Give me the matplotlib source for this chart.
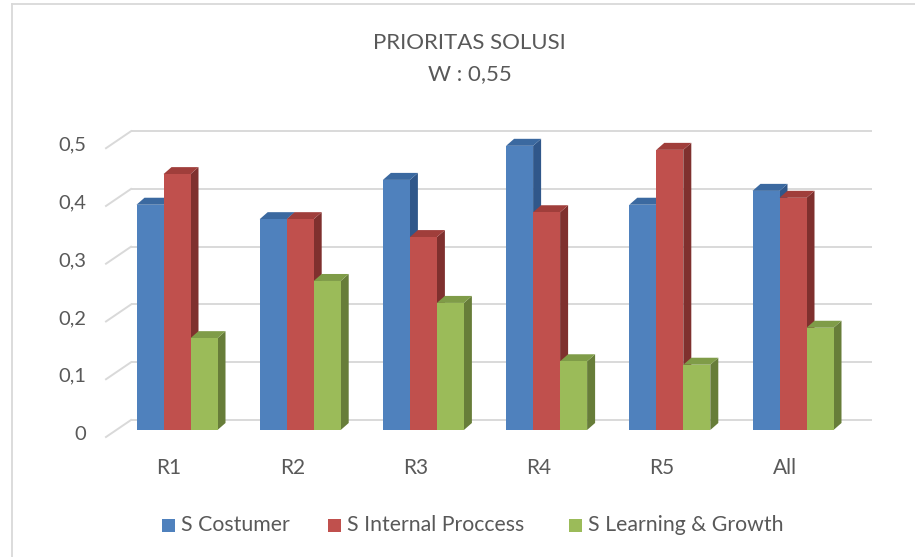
import matplotlib.pyplot as plt
from matplotlib.patches import Polygon, Rectangle

plt.rcParams['font.family'] = ['Lato', 'DejaVu Sans']

categories = ["R1", "R2", "R3", "R4", "R5", "All"]
s_costumer = [0.39, 0.365, 0.433, 0.492, 0.39, 0.414]
s_internal = [0.443, 0.365, 0.334, 0.377, 0.485, 0.402]
s_learning = [0.159, 0.258, 0.22, 0.119, 0.113, 0.177]
series_names = ["S Costumer", "S Internal Proccess", "S Learning & Growth"]
yticks = [0, 0.1, 0.2, 0.3, 0.4, 0.5]
ytick_labels = ["0", "0,1", "0,2", "0,3", "0,4", "0,5"]
title_line1 = "PRIORITAS SOLUSI"
title_line2 = "W : 0,55"

W, H = 915, 557
# pixel scale of the chart (front face of the bars)
X0_PX, X_STEP = 177, 123.2   # centre of first group, spacing of groups
Y0_PX, Y_STEP = 430, 577.6   # baseline of bars, pixels per 1.0

front_cols = ["#4F81BD", "#C0504D", "#9BBB59"]
top_cols = ["#3B69A0", "#A03E3B", "#7F9C48"]
side_cols = ["#30578A", "#7F302E", "#677D39"]
grid_col = "#D9D9D9"
text_col = "#595959"

fig = plt.figure(figsize=(W / 100, H / 100), dpi=100)
ax = fig.add_axes([0, 0, 1, 1])
ax.set_xlim(-X0_PX / X_STEP, (W - X0_PX) / X_STEP)
ax.set_ylim(-(H - Y0_PX) / Y_STEP, Y0_PX / Y_STEP)
ax.axis('off')

def dx(px):
    return px / X_STEP

def dy(px):
    return px / Y_STEP

# back wall gridlines + left oblique ticks
n = len(categories)
left_front = dx(106 - X0_PX)
left_back = dx(131 - X0_PX)
right_back = dx(872 - X0_PX)
for v in yticks:
    yb = v + dy(10)
    yf = v - dy(7)
    ax.plot([left_back, right_back], [yb, yb], color=grid_col, lw=1.4, zorder=1,
            solid_capstyle='butt')
    ax.plot([left_front, left_back], [yf, yb], color=grid_col, lw=1.4, zorder=1)

for v, lab in zip(yticks, ytick_labels):
    ax.text(dx(86 - X0_PX), v - dy(4), lab, ha='right', va='center',
            fontsize=14.5, color=text_col)

# 3d-ish bars
bw = dx(27)
ddx, ddy = dx(8), dy(7)
series = [s_costumer, s_internal, s_learning]
z = 2
for i in range(n):
    for k, vals in enumerate(series):
        v = vals[i]
        x0 = i + (k - 1.5) * bw
        x1 = x0 + bw
        side = Polygon([(x1, 0), (x1 + ddx, ddy), (x1 + ddx, v + ddy), (x1, v)],
                       closed=True, facecolor=side_cols[k], edgecolor='none', zorder=z)
        top = Polygon([(x0, v), (x0 + ddx, v + ddy), (x1 + ddx, v + ddy), (x1, v)],
                      closed=True, facecolor=top_cols[k], edgecolor='none', zorder=z)
        ax.add_patch(side)
        ax.add_patch(top)
        ax.bar(x0, v, width=bw, align='edge', color=front_cols[k], zorder=z + 0.5,
               linewidth=0)
        z += 1

for i, lab in enumerate(categories):
    ax.text(i - dx(8), dy(430 - 468), lab, ha='center', va='center',
            fontsize=15, color=text_col)

fig.text(469.5 / W, 1 - 43 / H, title_line1, ha='center', va='center',
         fontsize=16, color=text_col)
fig.text(469.5 / W, 1 - 74 / H, title_line2, ha='center', va='center',
         fontsize=16, color=text_col)

# legend
leg_x = [162, 328, 569]
for k, name in enumerate(series_names):
    fig.patches.append(Rectangle((leg_x[k] / W, 1 - 532 / H), 13 / W, 13 / H,
                                 transform=fig.transFigure, facecolor=front_cols[k],
                                 edgecolor='none'))
    fig.text((leg_x[k] + 19) / W, 1 - 525 / H, name, ha='left', va='center',
             fontsize=15.3, color=text_col)

# chart border (top and left visible)
fig.add_artist(plt.Line2D([12 / W, 12 / W], [0, 1 - 4 / H], color=grid_col, lw=1.3,
                          transform=fig.transFigure))
fig.add_artist(plt.Line2D([12 / W, 1], [1 - 4 / H, 1 - 4 / H], color=grid_col, lw=1.3,
                          transform=fig.transFigure))

fig.savefig("out.png", dpi=100)
